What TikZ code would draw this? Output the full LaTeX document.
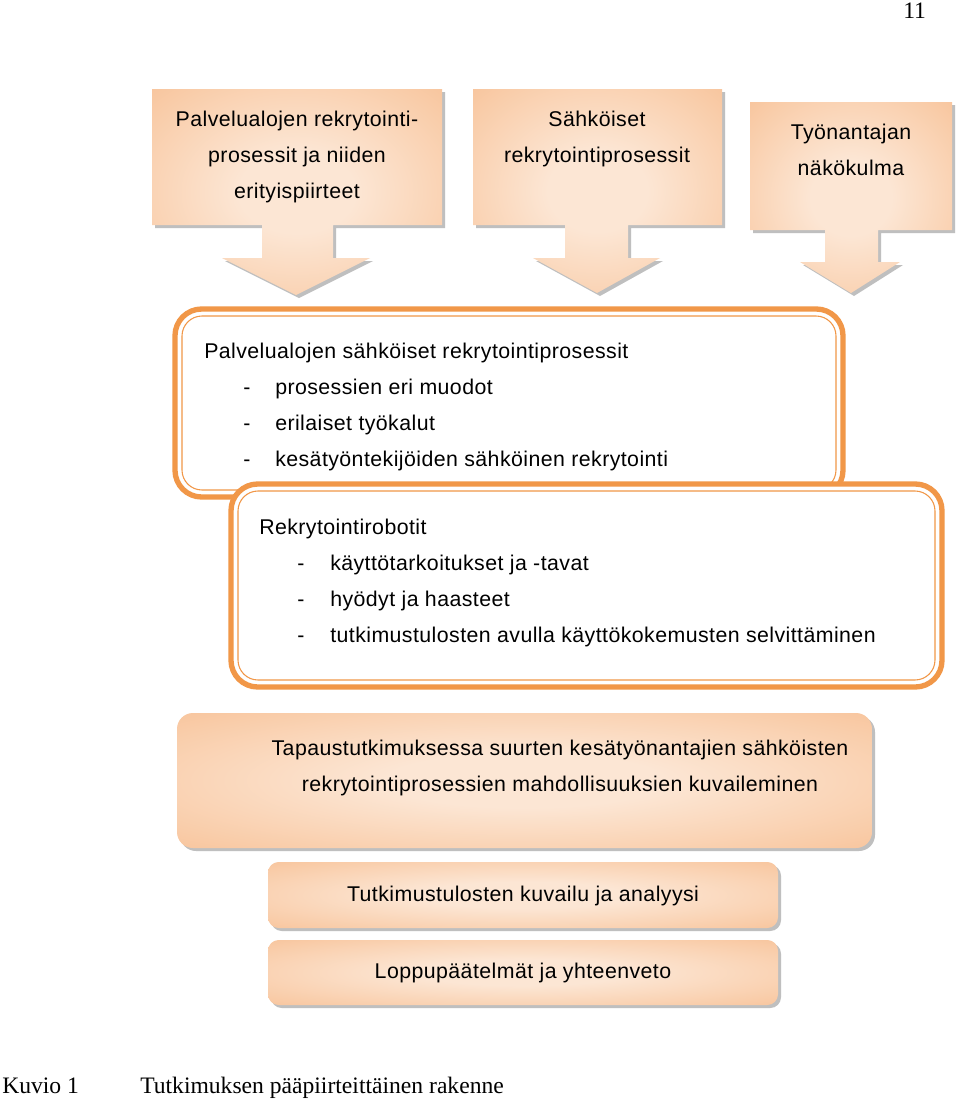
\documentclass[tikz,border=0pt]{standalone}
\usepackage{fontspec}
\setmainfont[LetterSpace=2]{Liberation Sans}
\newfontfamily\capfont{Liberation Serif}
\definecolor{orangeB}{RGB}{241,151,72}
\definecolor{peachL}{RGB}{252,230,212}
\definecolor{peachM}{RGB}{249,205,170}
\definecolor{peachD}{RGB}{245,176,124}
\pgfdeclareradialshading{peachrad}{\pgfpoint{0bp}{0bp}}{%
  color(0bp)=(peachL); color(10bp)=(peachL); color(30bp)=(peachM);
  color(52bp)=(peachD); color(75bp)=(peachD)}
\tikzset{
  calloutfill/.style={shading=peachrad},
  shadowfill/.style={fill=black!45, opacity=0.55},
  framebox/.style={draw=orangeB, line width=4pt, fill=white, rounded corners=20pt},
  innerframe/.style={draw=orangeB, line width=0.8pt, rounded corners=15pt},
  txt/.style={font=\fontsize{16}{27}\selectfont, inner sep=0pt, anchor=base west},
  ctxt/.style={font=\fontsize{16}{27}\selectfont, inner sep=0pt, anchor=base},
  captxt/.style={font=\capfont\fontsize{17.7}{21}\selectfont, inner sep=0pt, anchor=base west}
}
\begin{document}
\begin{tikzpicture}[x=0.75pt,y=-0.75pt]
\useasboundingbox (0,0) rectangle (960,1100);
\fill[white] (0,0) rectangle (960,1100);

% page number
\node[captxt] (pnum) at (903,18) {11};

% ---- arrow callouts ----
% shadows
\fill[shadowfill] (155,92) -- (445,92) -- (445,228) -- (336,228) -- (336,261) -- (373,261) -- (299,298) -- (225,261) -- (265,261) -- (265,228) -- (155,228) -- cycle;
\fill[shadowfill] (476,92) -- (725,92) -- (725,228) -- (631,228) -- (631,261) -- (663,261) -- (600,296) -- (536,261) -- (568,261) -- (568,228) -- (476,228) -- cycle;
\fill[shadowfill] (753,105) -- (955,105) -- (955,233) -- (881,233) -- (881,265) -- (903,265) -- (854,296) -- (803,265) -- (828,265) -- (828,233) -- (753,233) -- cycle;
% shapes
\shade[calloutfill] (152,89) -- (442,89) -- (442,225) -- (333,225) -- (333,258) -- (370,258) -- (296,295) -- (222,258) -- (262,258) -- (262,225) -- (152,225) -- cycle;
\shade[calloutfill] (473,89) -- (722,89) -- (722,225) -- (628,225) -- (628,258) -- (660,258) -- (597,293) -- (533,258) -- (565,258) -- (565,225) -- (473,225) -- cycle;
\shade[calloutfill] (750,102) -- (952,102) -- (952,230) -- (878,230) -- (878,262) -- (900,262) -- (851,293) -- (800,262) -- (825,262) -- (825,230) -- (750,230) -- cycle;

\node[ctxt] (a1l1) at (297,126) {Palvelualojen rekrytointi-};
\node[ctxt] (a1l2) at (297,162) {prosessit ja niiden};
\node[ctxt] (a1l3) at (297,198) {erityispiirteet};
\node[ctxt] (a2l1) at (597,126) {Sähköiset};
\node[ctxt] (a2l2) at (597,162) {rekrytointiprosessit};
\node[ctxt] (a3l1) at (851,139) {Työnantajan};
\node[ctxt] (a3l2) at (851,175) {näkökulma};

% ---- framed box 1 ----
\draw[framebox] (175,309) rectangle (843,497);
\draw[innerframe] (182,316) rectangle (836,490);
\node[txt] (b1t) at (204,358) {Palvelualojen sähköiset rekrytointiprosessit};
\node[txt] (b1d1) at (243,394) {-};
\node[txt] (b1i1) at (275,394) {prosessien eri muodot};
\node[txt] (b1d2) at (243,430) {-};
\node[txt] (b1i2) at (275,430) {erilaiset työkalut};
\node[txt] (b1d3) at (243,466) {-};
\node[txt] (b1i3) at (275,466) {kesätyöntekijöiden sähköinen rekrytointi};

% ---- framed box 2 ----
\draw[framebox] (231,484) rectangle (942,687);
\draw[innerframe] (238,491) rectangle (935,680);
\node[txt] (b2t) at (259,534) {Rekrytointirobotit};
\node[txt] (b2d1) at (297,570) {-};
\node[txt] (b2i1) at (330,570) {käyttötarkoitukset ja -tavat};
\node[txt] (b2d2) at (297,606) {-};
\node[txt] (b2i2) at (330,606) {hyödyt ja haasteet};
\node[txt] (b2d3) at (297,642) {-};
\node[txt] (b2i3) at (330,642) {tutkimustulosten avulla käyttökokemusten selvittäminen};

% ---- gradient boxes ----
\fill[shadowfill, rounded corners=12pt] (180,716) rectangle (875,851);
\shade[calloutfill, rounded corners=12pt] (177,713) rectangle (872,848);
\node[ctxt] (b3l1) at (560,755) {Tapaustutkimuksessa suurten kesätyönantajien sähköisten};
\node[ctxt] (b3l2) at (560,791) {rekrytointiprosessien mahdollisuuksien kuvaileminen};

\fill[shadowfill, rounded corners=8pt] (271,865) rectangle (781,931);
\shade[calloutfill, rounded corners=8pt] (268,862) rectangle (778,928);
\node[ctxt] (b4) at (523,901) {Tutkimustulosten kuvailu ja analyysi};

\fill[shadowfill, rounded corners=8pt] (271,943) rectangle (781,1008);
\shade[calloutfill, rounded corners=8pt] (268,940) rectangle (778,1005);
\node[ctxt] (b5) at (523,978) {Loppupäätelmät ja yhteenveto};

% ---- caption ----
\node[captxt] (cap1) at (2,1093) {Kuvio 1};
\node[captxt] (cap2) at (140,1093) {Tutkimuksen pääpiirteittäinen rakenne};
\end{tikzpicture}
\end{document}
